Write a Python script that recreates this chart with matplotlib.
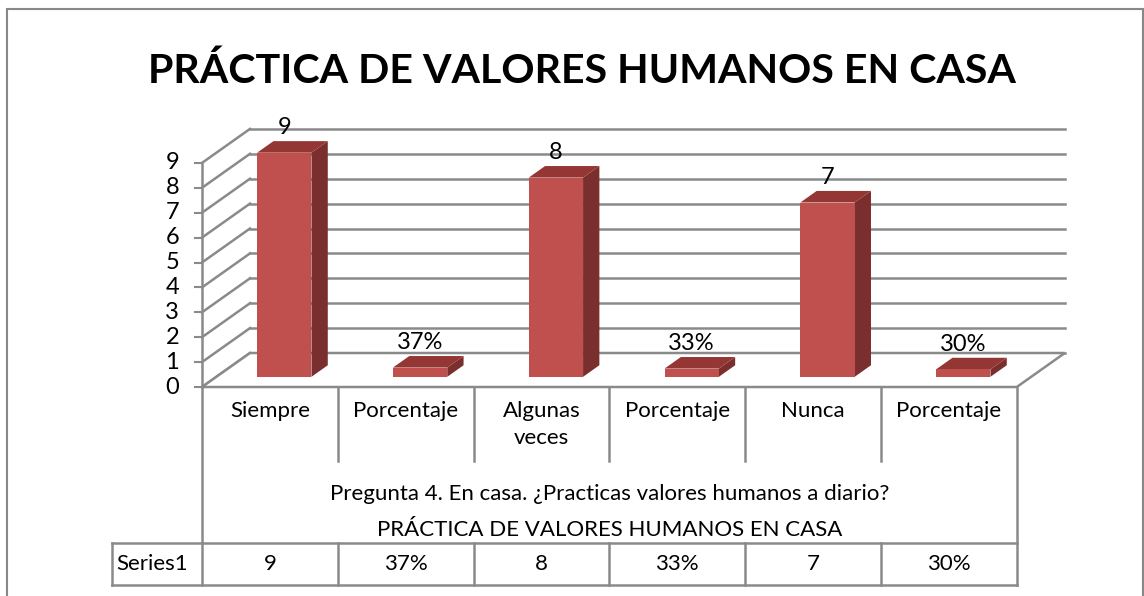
import matplotlib
matplotlib.use("Agg")
import matplotlib.pyplot as plt
from matplotlib.patches import Polygon, Rectangle

categories = ["Siempre", "Porcentaje", "Algunas\nveces", "Porcentaje", "Nunca", "Porcentaje"]
values = [9, 0.37, 8, 0.33, 7, 0.30]
value_labels = ["9", "37%", "8", "33%", "7", "30%"]
yticks = list(range(0, 10))
title = "PRÁCTICA DE VALORES HUMANOS EN CASA"
axis_title = "Pregunta 4. En casa. ¿Practicas valores humanos a diario?"
series_name = "Series1"

W, H = 1144, 596
X0, Y0 = 202, 387        # pixel of the front-left corner of the floor
COL, UNIT = 135.8, 24.9  # pixels per category / per value unit
DX, DY = 48 / COL, 34 / UNIT   # depth offset of the back wall, in data units
D0, D1 = 0.3, 0.64       # depth of bar front / back faces (fraction)
BW = 0.40                # bar width, in categories

FONT = "Lato"
FS = 16
GRID = "#8a8a8a"
FRONT, TOP, SIDE = "#C0504D", "#943634", "#7A2E2D"


def py(p):
    # pixel row -> data y
    return (Y0 - p) / UNIT


def px(p):
    return (p - X0) / COL


fig = plt.figure(figsize=(W / 100, H / 100), dpi=100)
ax = fig.add_axes([0, 0, 1, 1])
ax.set_xlim(px(0), px(W))
ax.set_ylim(py(H), py(0))
ax.axis("off")

n = len(categories)
ymax = yticks[-1]

# back wall gridlines and left wall diagonals
for v in yticks:
    ax.plot([DX, n + DX], [v + DY, v + DY], color=GRID, lw=1.8, zorder=1)
    ax.plot([0, DX], [v, v + DY], color=GRID, lw=1.8, zorder=1)
    ax.plot([-0.05, 0], [v, v], color=GRID, lw=1.5, zorder=1)
    ax.text(px(179), v, str(v), ha="right", va="center", family=FONT, fontsize=FS + 1)

# floor
ax.add_patch(Polygon([(0, 0), (n, 0), (n + DX, DY), (DX, DY)], closed=True,
                     facecolor="white", edgecolor=GRID, lw=1.8, zorder=2))
ax.plot([0, 0], [0, ymax], color=GRID, lw=1.8, zorder=2)

# bars
for i, v in enumerate(values):
    x0 = i + (1 - BW) / 2
    x1 = x0 + BW
    fx, fy = D0 * DX, D0 * DY
    bx, by = D1 * DX, D1 * DY
    ax.add_patch(Polygon([(x1 + fx, fy), (x1 + bx, by), (x1 + bx, v + by), (x1 + fx, v + fy)],
                         closed=True, facecolor=SIDE, edgecolor="none", zorder=3))
    ax.add_patch(Polygon([(x0 + fx, v + fy), (x1 + fx, v + fy), (x1 + bx, v + by), (x0 + bx, v + by)],
                         closed=True, facecolor=TOP, edgecolor="none", zorder=3))
    ax.add_patch(Rectangle((x0 + fx, fy), BW, v, facecolor=FRONT, edgecolor="none", zorder=4))
    ax.text(i + 0.5 + fx, v + by + 0.12, value_labels[i], ha="center", va="bottom",
            family=FONT, fontsize=FS + 1, zorder=5)

# data table
left = px(112)
r1, r2, r3 = py(461), py(543), py(585)
ax.plot([0, 0], [0, r3], color=GRID, lw=1.8)
ax.plot([n, n], [0, r3], color=GRID, lw=1.8)
for i in range(1, n):
    ax.plot([i, i], [0, r1], color=GRID, lw=1.8)
    ax.plot([i, i], [r2, r3], color=GRID, lw=1.8)
ax.plot([left, n], [r2, r2], color=GRID, lw=1.8)
ax.plot([left, n], [r3, r3], color=GRID, lw=1.8)
ax.plot([left, left], [r2, r3], color=GRID, lw=1.8)

for i, c in enumerate(categories):
    ax.text(i + 0.5, py(401), c, ha="center", va="top", family=FONT, fontsize=FS,
            linespacing=1.45)
    ax.text(i + 0.5, (r2 + r3) / 2, value_labels[i], ha="center", va="center",
            family=FONT, fontsize=FS)
ax.text(n / 2, py(494), axis_title, ha="center", va="center", family=FONT, fontsize=FS)
ax.text(n / 2, py(530), title, ha="center", va="center", family=FONT, fontsize=FS)
ax.text(left + 0.03, (r2 + r3) / 2, series_name, ha="left", va="center",
        family=FONT, fontsize=FS)

# chart title and outer border
fig.text(582 / W, 1 - 83 / H, title, ha="center", va="baseline", family=FONT,
         fontsize=29.6, fontweight="bold")
fig.add_artist(Rectangle((7 / W, -0.05), (W - 8) / W, 1.05 - 9 / H, transform=fig.transFigure,
                         fill=False, edgecolor="#888888", lw=1.5))

fig.savefig("out.png", dpi=100)
